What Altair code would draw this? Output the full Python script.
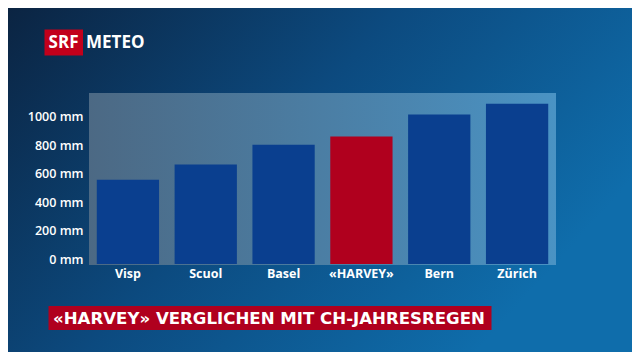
import altair as alt
import pandas as pd

stations = ["Visp", "Scuol", "Basel", "«HARVEY»", "Bern", "Zürich"]
rain_mm = [592, 699, 837, 895, 1049, 1124]
y_ticks = [0, 200, 400, 600, 800, 1000]
title_text = "«HARVEY» VERGLICHEN MIT CH-JAHRESREGEN"
logo_left = "SRF"
logo_right = "METEO"

df = pd.DataFrame({"station": stations, "rain": rain_mm})

W, H = 467, 171
PL, PT = 81, 85
TOTAL_W, TOTAL_H = 624, 344
FONT = "Open Sans"
RED = "#b0001e"
BLUE = "#0a3f8f"

one = alt.Data(values=[{}])

bg = alt.Chart(one).mark_rect(
    color=alt.Gradient(
        gradient="linear", x1=0, y1=0, x2=1, y2=0.5,
        stops=[alt.GradientStop(color="#0b2442", offset=0),
               alt.GradientStop(color="#0c4a7f", offset=0.5),
               alt.GradientStop(color="#0f6dab", offset=1)])
).encode(x=alt.value(-PL), x2=alt.value(TOTAL_W - PL),
         y=alt.value(-PT), y2=alt.value(TOTAL_H - PT))

panel = alt.Chart(one).mark_rect(
    color=alt.Gradient(
        gradient="linear", x1=0, y1=0, x2=1, y2=0,
        stops=[alt.GradientStop(color="#4c6984", offset=0),
               alt.GradientStop(color="#4a93c4", offset=1)])
).encode(x=alt.value(0), x2=alt.value(W), y=alt.value(0), y2=alt.value(H + 1))

bars = alt.Chart(df).mark_bar().encode(
    x=alt.X("station:N", sort=stations,
            scale=alt.Scale(paddingInner=0.2, paddingOuter=0.1),
            axis=alt.Axis(title=None, labelAngle=0, domain=False, ticks=False,
                          labelColor="white", labelFont=FONT, labelFontSize=12.5,
                          labelFontWeight="bold", labelPadding=3, zindex=2)),
    y=alt.Y("rain:Q", scale=alt.Scale(domain=[0, 1200], nice=False),
            axis=alt.Axis(title=None, values=y_ticks, domain=False, ticks=False,
                          grid=False, labelColor="white", labelFont=FONT,
                          labelFontSize=12.5, labelFontWeight=600, labelPadding=6,
                          labelBaseline="alphabetic", labelOffset=-1, zindex=2,
                          labelExpr="datum.value + ' mm'")),
    color=alt.condition(alt.datum.station == "«HARVEY»", alt.value(RED), alt.value(BLUE)),
)

logo_box = alt.Chart(one).mark_rect(color="#c2001b").encode(
    x=alt.value(44.5 - 89), x2=alt.value(83 - 89),
    y=alt.value(29.5 - 93), y2=alt.value(55.5 - 93))
logo_t1 = alt.Chart(one).mark_text(
    text=logo_left, color="white", font=FONT, fontSize=17, fontWeight="bold",
    align="center", baseline="middle").encode(x=alt.value(63.5 - 89), y=alt.value(43 - 93))
logo_t2 = alt.Chart(one).mark_text(
    text=logo_right, color="white", font=FONT, fontSize=17, fontWeight="bold",
    align="left", baseline="middle").encode(x=alt.value(86 - 89), y=alt.value(43 - 93))

title_box = alt.Chart(one).mark_rect(color=RED).encode(
    x=alt.value(48.5 - 89), x2=alt.value(491.5 - 89),
    y=alt.value(306 - 93), y2=alt.value(330 - 93))
title_t = alt.Chart(one).mark_text(
    text=title_text, color="white", font="DejaVu Sans", fontSize=16.6, fontWeight="bold",
    align="left", baseline="middle").encode(x=alt.value(53 - 89), y=alt.value(318.5 - 93))

chart = alt.layer(bg, panel, bars, logo_box, logo_t1, logo_t2, title_box, title_t).properties(
    width=W, height=H,
    autosize=alt.AutoSizeParams(type="none"),
    padding={"left": PL, "top": PT, "right": TOTAL_W - PL - W, "bottom": TOTAL_H - PT - H},
    background="#0c3a66",
).configure_view(stroke=None)

chart.save("out.html", embed_options={"renderer": "svg", "actions": False})
